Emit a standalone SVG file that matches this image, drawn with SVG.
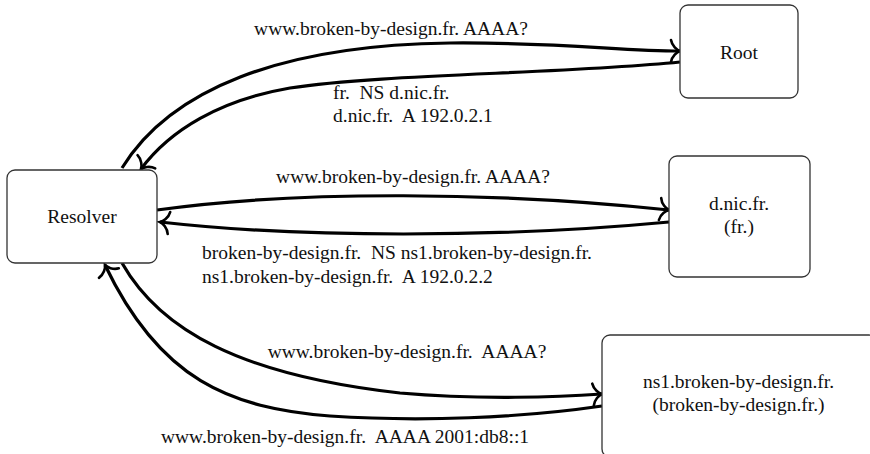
<svg xmlns="http://www.w3.org/2000/svg" width="870" height="454" viewBox="0 0 870 454">
<style>
.box{fill:#fff;stroke:#333;stroke-width:1.3}
.t{font-family:"Liberation Serif","Times New Roman",serif;font-size:19.5px;fill:#111}
.c{text-anchor:middle}
.l{text-anchor:start}
.e{fill:none;stroke:#000;stroke-width:3.2;marker-end:url(#ah)}
</style>
<defs>
<marker id="ah" markerUnits="userSpaceOnUse" orient="auto" overflow="visible" markerWidth="30" markerHeight="30" refX="0" refY="0">
<path d="M-9,-11 C-8,-5 -3,-1 0,0 C-3,1 -8,5 -9,11" fill="none" stroke="#000" stroke-width="2.6" stroke-linecap="round"/>
</marker>
</defs>
<rect width="870" height="454" fill="#fff"/>
<g id="connectors">
<path id="q-root" class="e" d="M122,168 C170,90 280,45 450,43 C560,42 620,51 680,51"/>
<path id="r-root" class="e" d="M680,62 C560,74 380,74 290,88 C220,100 170,130 141,169"/>
<path id="q-dnic" class="e" d="M157,210 C300,190 500,192 669,210"/>
<path id="r-dnic" class="e" d="M669,222 C500,238 300,238 160,222"/>
<path id="q-ns1" class="e" d="M122,263 C160,330 240,375 400,393 C480,400 560,397 602,394"/>
<path id="r-ns1" class="e" d="M602,406 C520,418 420,422 330,416 C230,408 160,380 105,265"/>
</g>
<g id="labels">
<text class="t c" x="391" y="35" xml:space="preserve">www.broken-by-design.fr. AAAA?</text>
<text class="t l" x="333" y="99" xml:space="preserve">fr.  NS d.nic.fr.</text>
<text class="t l" x="333" y="122" xml:space="preserve">d.nic.fr.  A 192.0.2.1</text>
<text class="t c" x="413" y="183" xml:space="preserve">www.broken-by-design.fr. AAAA?</text>
<text class="t l" x="202" y="259" xml:space="preserve">broken-by-design.fr.  NS ns1.broken-by-design.fr.</text>
<text class="t l" x="202" y="283" xml:space="preserve">ns1.broken-by-design.fr.  A 192.0.2.2</text>
<text class="t c" x="407" y="358" xml:space="preserve">www.broken-by-design.fr.  AAAA?</text>
<text class="t c" x="345" y="443" xml:space="preserve">www.broken-by-design.fr.  AAAA 2001:db8::1</text>
</g>
<g id="resolver">
<rect class="box" x="7" y="170" width="150" height="93" rx="8"/>
<text class="t c" x="82" y="223">Resolver</text>
</g>
<g id="root">
<rect class="box" x="680" y="5" width="118" height="93" rx="8"/>
<text class="t c" x="739" y="59">Root</text>
</g>
<g id="dnic">
<rect class="box" x="669" y="156" width="141" height="121" rx="8"/>
<text class="t c" x="739" y="210">d.nic.fr.</text>
<text class="t c" x="739" y="233">(fr.)</text>
</g>
<g id="ns1">
<rect class="box" x="602" y="335" width="275" height="122" rx="8"/>
<text class="t c" x="738.5" y="388">ns1.broken-by-design.fr.</text>
<text class="t c" x="738.5" y="411">(broken-by-design.fr.)</text>
</g>
</svg>
